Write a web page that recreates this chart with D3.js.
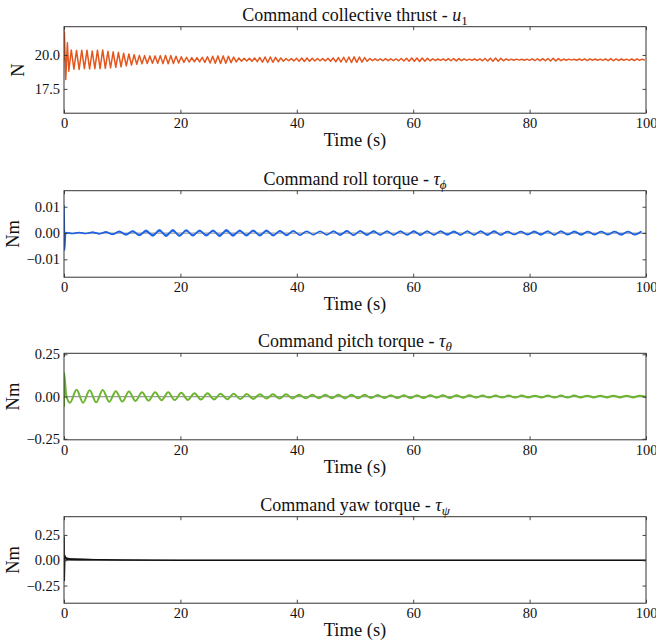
<!DOCTYPE html>
<html>
<head>
<meta charset="utf-8">
<script src="https://cdn.jsdelivr.net/npm/d3@7"></script>
<style>
  body { margin: 0; background: #fff; }
  text { font-family: "Liberation Serif", "Times New Roman", serif; fill: #111; }
</style>
</head>
<body>
<svg id="chart" width="656" height="642"></svg>
<script>
/////////////////////////////////// DONNEES ///////////////////////////////////
var xTicks = [0, 20, 40, 60, 80, 100];

// u1 - collective thrust (N) : transient then peaks/troughs every u1Step seconds
var u1HeadT = [0, 0.06, 0.3, 0.58, 0.82];
var u1HeadV = [19.6, 21.7, 18.2, 20.9, 18.8];
var u1Start = 1.25, u1Step = 0.45;
var u1Val = [
  20.37,18.95,20.33,18.93,20.35,18.99,20.35,18.97,20.29,18.99,
  20.35,18.99,20.37,19.01,20.27,19.05,20.23,19.09,20.19,19.13,
  20.13,19.20,20.07,19.25,20.01,19.31,19.97,19.35,19.95,19.37,
  19.93,19.39,19.93,19.38,19.95,19.36,19.97,19.35,19.95,19.37,
  19.91,19.41,19.87,19.45,19.83,19.48,19.81,19.50,19.80,19.49,
  19.83,19.45,19.87,19.41,19.91,19.38,19.93,19.37,19.93,19.38,
  19.90,19.43,19.84,19.49,19.78,19.54,19.75,19.55,19.76,19.53,
  19.78,19.51,19.81,19.47,19.85,19.44,19.85,19.46,19.82,19.50,
  19.78,19.54,19.74,19.57,19.73,19.56,19.75,19.54,19.77,19.52,
  19.78,19.53,19.76,19.55,19.74,19.57,19.73,19.56,19.75,19.53,
  19.78,19.50,19.81,19.48,19.83,19.46,19.85,19.44,19.86,19.45,
  19.85,19.47,19.80,19.53,19.74,19.58,19.71,19.59,19.72,19.57,
  19.73,19.58,19.71,19.59,19.72,19.57,19.74,19.55,19.75,19.54,
  19.77,19.53,19.78,19.52,19.77,19.54,19.75,19.57,19.72,19.59,
  19.70,19.60,19.71,19.58,19.73,19.57,19.74,19.56,19.73,19.58,
  19.71,19.60,19.69,19.61,19.70,19.59,19.72,19.57,19.74,19.55,
  19.76,19.53,19.77,19.54,19.75,19.57,19.71,19.60,19.69,19.61,
  19.69,19.62,19.68,19.61,19.69,19.60,19.71,19.59,19.72,19.58,
  19.73,19.57,19.74,19.55,19.75,19.56,19.73,19.58,19.70,19.61,
  19.69,19.62,19.68,19.61,19.70,19.60,19.71,19.59,19.71,19.60,
  19.70,19.61,19.69,19.60,19.71,19.58,19.73,19.57,19.72,19.59,
  19.70,19.61,19.69,19.60,19.70,19.59,19.71,19.60,19.69,19.61
];
var u1Ticks = [17.5, 20.0];
var u1Domain = [15.71, 22.08];

// tau_phi - roll torque (Nm) : slow wave + fast jitter band
var phiHeadT = [0, 0.03, 0.1, 0.3];
var phiHeadV = [0, 0.0106, -0.0066, 0.0002];
var phiStart = 1.45, phiStep = 1.15;
var phiVal = [
  -0.0002,0.0002,-0.0002,0.0003,-0.0003,0.0004,-0.0005,0.0006,-0.0006,0.0007,
  -0.0008,0.0008,-0.0009,0.0010,-0.0010,0.0010,-0.0010,0.0010,-0.0009,0.0009,
  -0.0009,0.0009,-0.0010,0.0010,-0.0009,0.0009,-0.0009,0.0009,-0.0009,0.0009,
  -0.0009,0.0008,-0.0008,0.0008,-0.0008,0.0007,-0.0007,0.0007,-0.0007,0.0007,
  -0.0007,0.0008,-0.0008,0.0008,-0.0007,0.0007,-0.0007,0.0007,-0.0007,0.0007,
  -0.0007,0.0007,-0.0007,0.0007,-0.0007,0.0007,-0.0006,0.0006,-0.0007,0.0007,
  -0.0007,0.0007,-0.0007,0.0007,-0.0007,0.0006,-0.0006,0.0006,-0.0006,0.0006,
  -0.0006,0.0007,-0.0007,0.0007,-0.0006,0.0006,-0.0006,0.0006,-0.0006,0.0006,
  -0.0006,0.0006,-0.0006,0.0006,-0.0006,0.0006
];
var phiFuzz = [
  0.0002,0.0002,0.0002,0.0003,0.0003,0.0003,0.0003,0.0004,0.0004,0.0004,
  0.0004,0.0005,0.0005,0.0005,0.0005,0.0005,0.0004,0.0004,0.0004,0.0004,
  0.0004,0.0004,0.0005,0.0005,0.0005,0.0004,0.0004,0.0004,0.0004,0.0004,
  0.0004,0.0004,0.0004,0.0003,0.0002,0.0001,0.0001,0.0001,0.0002,0.0003,
  0.0004,0.0004,0.0003,0.0003,0.0004,0.0004,0.0003,0.0003,0.0003,0.0003,
  0.0003,0.0004,0.0004,0.0003,0.0003,0.0003,0.0004,0.0004,0.0003,0.0003,
  0.0003,0.0003,0.0004,0.0004,0.0003,0.0003,0.0002,0.0003,0.0003,0.0004,
  0.0004,0.0003,0.0003,0.0003,0.0003,0.0004,0.0004,0.0003,0.0003,0.0003,
  0.0003,0.0003,0.0004,0.0003,0.0003,0.0003
];
var phiTicks = [-0.01, 0.00, 0.01];
var phiDomain = [-0.0168, 0.0161];

// tau_theta - pitch torque (Nm)
var thetaHeadT = [0, 0.02, 0.4];
var thetaHeadV = [-0.06, 0.14, 0.005];
var thetaStart = 1.03, thetaStep = 1.125;
var thetaVal = [
  -0.036,0.040,-0.036,0.037,-0.034,0.039,-0.031,0.032,-0.030,0.030,
  -0.026,0.025,-0.024,0.025,-0.022,0.025,-0.021,0.022,-0.020,0.020,
  -0.018,0.019,-0.017,0.017,-0.016,0.016,-0.015,0.015,-0.014,0.014,
  -0.012,0.013,-0.012,0.013,-0.011,0.011,-0.010,0.011,-0.010,0.010,
  -0.010,0.011,-0.011,0.011,-0.010,0.010,-0.009,0.009,-0.008,0.008,
  -0.008,0.008,-0.008,0.008,-0.008,0.008,-0.007,0.008,-0.008,0.008,
  -0.007,0.007,-0.006,0.006,-0.006,0.006,-0.006,0.006,-0.006,0.006,
  -0.005,0.005,-0.005,0.006,-0.006,0.006,-0.006,0.006,-0.005,0.005,
  -0.005,0.005,-0.005,0.005,-0.005,0.005,-0.005,0.005,-0.004
];
var thetaTicks = [-0.25, 0.00, 0.25];
var thetaDomain = [-0.256, 0.256];

// tau_psi - yaw torque (Nm)
var psiT = [0, 0.02, 0.06, 0.15, 0.4, 1, 3, 6, 10, 20, 100];
var psiV = [0, 0.23, -0.20, 0.04, 0.015, 0.01, 0.008, 0.005, 0.002, 0, 0];
var psiFuzz = [0, 0, 0, 0.02, 0.015, 0.012, 0.01, 0.006, 0.003, 0, 0];
var psiTicks = [-0.25, 0.00, 0.25];
var psiDomain = [-0.424, 0.43];

var titleText = ["Command collective thrust - ", "Command roll torque - ", "Command pitch torque - ", "Command yaw torque - "];
var titleSym = ["u", "\u03c4", "\u03c4", "\u03c4"];
var titleSub = ["1", "\u03d5", "\u03b8", "\u03c8"];
var yLabels = ["N", "Nm", "Nm", "Nm"];

/////////////////////////////////// MISE EN PAGE ///////////////////////////////////
var plotLeft = 64, plotRight = 646, plotH = 86.5;
var panelTops = [26.7, 190.7, 353.3, 516.7];
var tickLen = 3.5;

// assemble points {t, v, f} : explicit head + evenly sampled extremes
function buildSeries(headT, headV, start, step, vals, fuzz) {
  var pts = headT.map(function(t, i) { return {t: t, v: headV[i], f: 0}; });
  vals.forEach(function(v, i) {
    pts.push({t: start + i * step, v: v, f: fuzz ? fuzz[i] : 0});
  });
  return pts;
}

var panels = [
  {pts: buildSeries(u1HeadT, u1HeadV, u1Start, u1Step, u1Val), domain: u1Domain, ticks: u1Ticks,
   fmt: d3.format(".1f"), color: "#e4561d", width: 1.5, curve: d3.curveLinear, ref: false, labX: 24},
  {pts: buildSeries(phiHeadT, phiHeadV, phiStart, phiStep, phiVal, phiFuzz), domain: phiDomain, ticks: phiTicks,
   fmt: d3.format(".2f"), color: "#1c63e8", width: 1.5, curve: d3.curveMonotoneX, ref: true, band: true, labX: 19},
  {pts: buildSeries(thetaHeadT, thetaHeadV, thetaStart, thetaStep, thetaVal), domain: thetaDomain, ticks: thetaTicks,
   fmt: d3.format(".2f"), color: "#6cb52f", width: 2, curve: d3.curveMonotoneX, ref: true, labX: 19},
  {pts: psiT.map(function(t, i) { return {t: t, v: psiV[i], f: psiFuzz[i]}; }), domain: psiDomain, ticks: psiTicks,
   fmt: d3.format(".2f"), color: "#111111", width: 1.4, curve: d3.curveLinear, ref: true, band: true, labX: 19}
];

var svg = d3.select("#chart");
var x = d3.scaleLinear().domain([0, 100]).range([plotLeft, plotRight]);
var midX = (plotLeft + plotRight) / 2;

function styleAxis(g) {
  g.select(".domain").remove();
  g.selectAll("line").attr("stroke", "#333").attr("stroke-width", 0.9);
  g.selectAll("text").attr("font-size", 14.5).attr("fill", "#111");
  g.attr("font-family", null).attr("font-size", null);
}

panels.forEach(function(p, i) {
  var top = panelTops[i], bottom = top + plotH;
  var y = d3.scaleLinear().domain(p.domain).range([bottom, top]);
  var g = svg.append("g");

  g.append("clipPath").attr("id", "clip" + i)
    .append("rect").attr("x", plotLeft).attr("y", top)
    .attr("width", plotRight - plotLeft).attr("height", plotH);

  var plot = g.append("g").attr("clip-path", "url(#clip" + i + ")");

  // reference (0) in gray
  if (p.ref) {
    plot.append("line")
      .attr("x1", plotLeft).attr("x2", plotRight)
      .attr("y1", y(0)).attr("y2", y(0))
      .attr("stroke", "#9a9a9a").attr("stroke-width", 1.2);
  }

  // fast jitter shown as a band round the signal
  if (p.band) {
    plot.append("path").datum(p.pts)
      .attr("d", d3.area().curve(p.curve)
        .x(function(d) { return x(d.t); })
        .y0(function(d) { return y(d.v - d.f); })
        .y1(function(d) { return y(d.v + d.f); }))
      .attr("fill", p.color).attr("opacity", 0.85);
  }

  plot.append("path").datum(p.pts)
    .attr("d", d3.line().curve(p.curve)
      .x(function(d) { return x(d.t); })
      .y(function(d) { return y(d.v); }))
    .attr("fill", "none")
    .attr("stroke", p.color)
    .attr("stroke-width", p.width)
    .attr("stroke-linejoin", "round");

  // axes, ticks pointing inward on all four sides
  g.append("g").attr("transform", "translate(0," + bottom + ")")
    .call(d3.axisBottom(x).tickValues(xTicks).tickSize(-tickLen).tickPadding(5).tickFormat(d3.format("d")))
    .call(styleAxis);
  g.append("g").attr("transform", "translate(0," + top + ")")
    .call(d3.axisTop(x).tickValues(xTicks).tickSize(-tickLen).tickFormat(""))
    .call(styleAxis);
  g.append("g").attr("transform", "translate(" + plotLeft + ",0)")
    .call(d3.axisLeft(y).tickValues(p.ticks).tickSize(-tickLen).tickPadding(4).tickFormat(p.fmt))
    .call(styleAxis);
  g.append("g").attr("transform", "translate(" + plotRight + ",0)")
    .call(d3.axisRight(y).tickValues(p.ticks).tickSize(-tickLen).tickFormat(""))
    .call(styleAxis);

  g.append("rect")
    .attr("x", plotLeft).attr("y", top)
    .attr("width", plotRight - plotLeft).attr("height", plotH)
    .attr("fill", "none").attr("stroke", "#333").attr("stroke-width", 1);

  // title with italic symbol + subscript
  var title = g.append("text")
    .attr("x", midX).attr("y", top - 6)
    .attr("text-anchor", "middle").attr("font-size", 18);
  title.append("tspan").text(titleText[i]);
  title.append("tspan").attr("font-style", "italic").text(titleSym[i]);
  title.append("tspan").attr("font-size", 13).attr("font-style", i ? "italic" : "normal")
    .attr("dy", 4).text(titleSub[i]);

  g.append("text")
    .attr("x", midX).attr("y", bottom + 33)
    .attr("text-anchor", "middle").attr("font-size", 18.5)
    .text("Time (s)");

  g.append("text")
    .attr("transform", "translate(" + p.labX + "," + (top + plotH / 2) + ") rotate(-90)")
    .attr("text-anchor", "middle").attr("font-size", 18.5)
    .text(yLabels[i]);
});
</script>
</body>
</html>
